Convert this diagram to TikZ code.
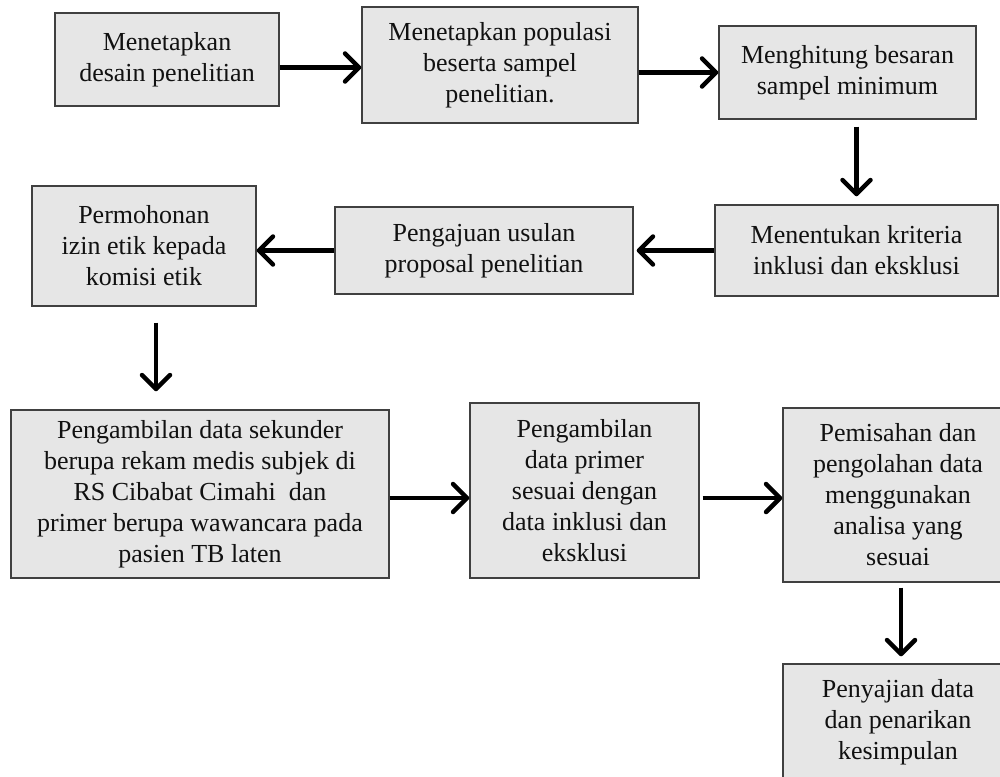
\documentclass[tikz,border=0pt]{standalone}
\usepackage{fontspec}
\setmainfont{Liberation Serif}
\usetikzlibrary{arrows.meta}
\definecolor{boxfill}{HTML}{E6E6E6}
\definecolor{boxline}{HTML}{404040}
\definecolor{txt}{HTML}{111111}
\tikzset{
  box/.style={draw=boxline, line width=1.4pt, fill=boxfill, text=txt, align=center,
    inner sep=0pt, font=\fontsize{26}{31}\selectfont},
  arr/.style={line width=4.5pt, draw=black,
    -{Straight Barb[length=14pt,width=28pt,line width=4.5pt,line cap=round,line join=round]}}
}
\begin{document}
\begin{tikzpicture}[x=1pt,y=-1pt]
\useasboundingbox (0,0) rectangle (1000,776);
\clip (0,0) rectangle (1000,776);
\fill[white] (0,0) rectangle (1000,776);
\node[box, minimum width=224pt, minimum height=93pt] (b1) at (167,59.5) {Menetapkan\\desain penelitian};
\node[box, minimum width=276pt, minimum height=116pt] (b2) at (500,65) {Menetapkan populasi\\beserta sampel\\penelitian.};
\node[box, minimum width=257pt, minimum height=93pt] (b3) at (847.5,72.5) {Menghitung besaran\\sampel minimum};
\node[box, minimum width=283pt, minimum height=91pt] (b4) at (856.5,250.5) {Menentukan kriteria\\inklusi dan eksklusi};
\node[box, minimum width=298pt, minimum height=87pt] (b5) at (484,250.5) {Pengajuan usulan\\proposal penelitian};
\node[box, minimum width=224pt, minimum height=120pt] (b6) at (144,246) {Permohonan\\izin etik kepada\\komisi etik};
\node[box, minimum width=378pt, minimum height=168pt] (b7) at (200,494) {Pengambilan data sekunder\\berupa rekam medis subjek di\\RS Cibabat Cimahi~ dan\\primer berupa wawancara pada\\pasien TB laten};
\node[box, minimum width=229pt, minimum height=175pt] (b8) at (584.5,490.5) {Pengambilan\\data primer\\sesuai dengan\\data inklusi dan\\eksklusi};
\node[box, minimum width=230pt, minimum height=174pt] (b9) at (898,495) {Pemisahan dan\\pengolahan data\\menggunakan\\analisa yang\\sesuai};
\node[box, minimum width=230pt, minimum height=116pt] (b10) at (898,722) {Penyajian data\\dan penarikan\\kesimpulan};
\draw[arr] ([yshift=-8pt]b1.east) -- ([yshift=-8pt]b1.east -| b2.west);
\draw[arr] (b3.west -| b2.east) -- (b3.west);
\draw[arr, shorten <=7pt, shorten >=8pt] (b3.south -| b4.north) -- (b4.north);
\draw[arr, shorten >=3pt] (b4.west) -- (b4.west -| b5.east);
\draw[arr] (b5.west) -- (b5.west -| b6.east);
\draw[arr, shorten <=16pt, shorten >=18pt] ([xshift=12pt]b6.south) -- ([xshift=12pt]b6.south |- b7.north);
\draw[arr] ([yshift=-4pt]b7.east) -- ([yshift=-4pt]b7.east -| b8.west);
\draw[arr, shorten <=3pt] ([yshift=-3pt]b9.west -| b8.east) -- ([yshift=-3pt]b9.west);
\draw[arr, shorten <=5pt, shorten >=7pt] ([xshift=3pt]b9.south) -- ([xshift=3pt]b10.north);
\end{tikzpicture}
\end{document}
